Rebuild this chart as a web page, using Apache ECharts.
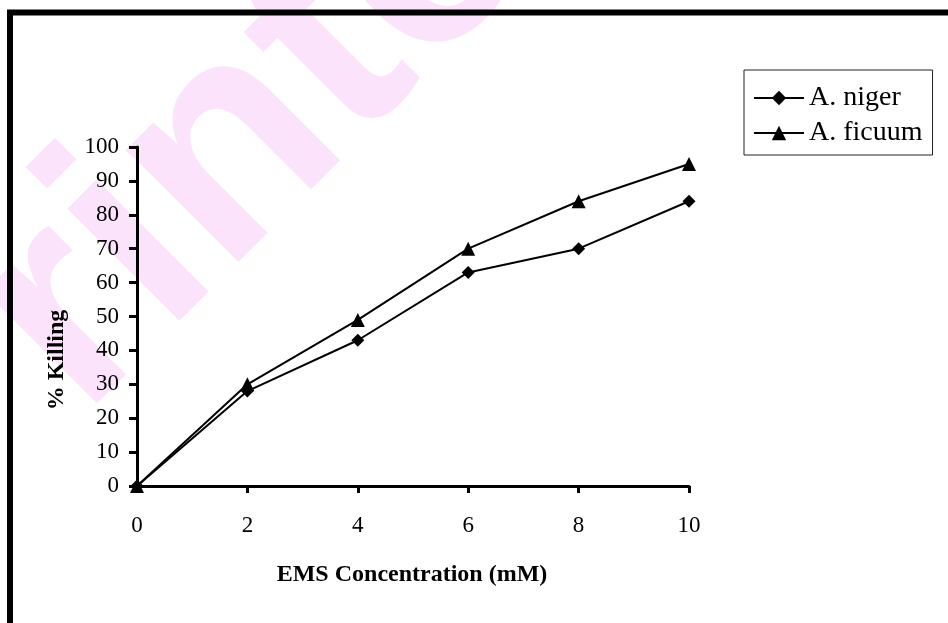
<!DOCTYPE html>
<html>
<head>
<meta charset="utf-8">
<script src="https://cdn.jsdelivr.net/npm/echarts@6/dist/echarts.min.js"></script>
<style>
  html, body { margin: 0; padding: 0; background: #fff; }
  #chart { width: 948px; height: 623px; }
</style>
</head>
<body>
<div id="chart"></div>
<script>
// EMS dose (mM) against percentage killing for two Aspergillus strains
const concentrations = [0, 2, 4, 6, 8, 10];
const nigerKilling = [0, 28, 43, 63, 70, 84];
const ficuumKilling = [0, 30, 49, 70, 84, 95];
const seriesNames = ['A. niger', 'A. ficuum'];
const yTicks = { min: 0, max: 100, step: 10 };
const xTicks = { min: 0, max: 10, step: 2 };

const serif = '"Liberation Serif", "Times New Roman", serif';

function pairs(xs, ys) {
  return xs.map((x, i) => [x, ys[i]]);
}

const chart = echarts.init(document.getElementById('chart'), null, { renderer: 'canvas' });

chart.setOption({
  backgroundColor: '#ffffff',
  animation: false,
  grid: { left: 137, right: 259, top: 147, bottom: 137, containLabel: false },
  legend: {
    orient: 'vertical',
    left: 744,
    top: 70,
    padding: [14, 10, 8, 9],
    itemGap: 7,
    itemWidth: 50,
    itemHeight: 18,
    borderColor: '#222',
    borderWidth: 1,
    backgroundColor: '#fff',
    lineStyle: { width: 2 },
    textStyle: { fontFamily: serif, fontSize: 28, color: '#000', lineHeight: 28 },
    data: seriesNames
  },
  xAxis: {
    type: 'value',
    min: xTicks.min,
    max: xTicks.max,
    interval: xTicks.step,
    axisLine: { show: true, onZero: false, lineStyle: { color: '#000', width: 3 } },
    axisTick: { show: true, inside: false, length: 7, lineStyle: { color: '#000', width: 3 } },
    axisLabel: { margin: 28, fontFamily: serif, fontSize: 23, color: '#000' },
    splitLine: { show: false }
  },
  yAxis: {
    type: 'value',
    min: yTicks.min,
    max: yTicks.max,
    interval: yTicks.step,
    axisLine: { show: true, lineStyle: { color: '#000', width: 3 } },
    axisTick: { show: true, inside: false, length: 8, lineStyle: { color: '#000', width: 3 } },
    axisLabel: { margin: 18, fontFamily: serif, fontSize: 23, color: '#000' },
    splitLine: { show: false }
  },
  graphic: [
    {
      // faint diagonal stamp behind the plot
      type: 'text',
      z: -100,
      silent: true,
      x: -224,
      y: 395,
      rotation: 45 * Math.PI / 180,
      style: {
        text: 'Printed',
        font: 'bold 300px "Liberation Sans", Arial, sans-serif',
        fill: '#fce3fc'
      }
    },
    {
      // heavy frame, open to the right and bottom
      type: 'rect',
      z: 100,
      silent: true,
      shape: { x: 10, y: 12.5, width: 1200, height: 1200 },
      style: { fill: null, stroke: '#000', lineWidth: 6 }
    },
    {
      type: 'text',
      z: 50,
      x: 412,
      y: 575,
      style: {
        text: 'EMS Concentration (mM)',
        font: 'bold 24px ' + serif,
        fill: '#000',
        textAlign: 'center',
        textVerticalAlign: 'middle'
      }
    },
    {
      type: 'text',
      z: 50,
      x: 57,
      y: 360,
      rotation: Math.PI / 2,
      style: {
        text: '% Killing',
        font: 'bold 24px ' + serif,
        fill: '#000',
        textAlign: 'center',
        textVerticalAlign: 'middle'
      }
    }
  ],
  series: [
    {
      name: seriesNames[0],
      type: 'line',
      data: pairs(concentrations, nigerKilling),
      symbol: 'diamond',
      symbolSize: 13,
      lineStyle: { color: '#000', width: 2 },
      itemStyle: { color: '#000' },
      z: 3
    },
    {
      name: seriesNames[1],
      type: 'line',
      data: pairs(concentrations, ficuumKilling),
      symbol: 'triangle',
      symbolSize: 14,
      lineStyle: { color: '#000', width: 2 },
      itemStyle: { color: '#000' },
      z: 3
    }
  ]
});
</script>
</body>
</html>
